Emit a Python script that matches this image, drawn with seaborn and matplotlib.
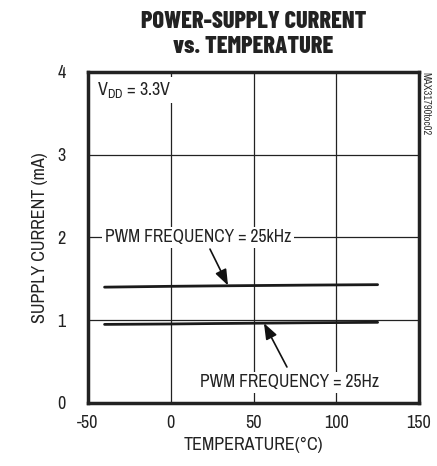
import matplotlib
matplotlib.use("Agg")
import matplotlib.pyplot as plt
import seaborn as sns
import pandas as pd

temps = [-40, 0, 25, 85, 125]
current_25khz = [1.40, 1.41, 1.415, 1.425, 1.43]
current_25hz = [0.95, 0.955, 0.96, 0.97, 0.975]
x_ticks = [-50, 0, 50, 100, 150]
y_ticks = [0, 1, 2, 3, 4]

sns.set_theme(style="white")
BODY = ["Archivo Narrow", "DejaVu Sans"]
TITLE = ["Barlow Condensed", "DejaVu Sans"]
plt.rcParams["font.family"] = BODY
plt.rcParams["mathtext.default"] = "regular"
INK = "#222222"

df = pd.DataFrame({
    "temp": temps * 2,
    "current": current_25khz + current_25hz,
    "series": ["25kHz"] * len(temps) + ["25Hz"] * len(temps),
})

fig = plt.figure(figsize=(4.37, 4.66), dpi=100)
ax = fig.add_axes([0.2014, 0.1352, 0.7574, 0.7103])

sns.lineplot(data=df, x="temp", y="current", units="series", estimator=None,
             color="#1a1a1a", linewidth=2.0, ax=ax, legend=False)

ax.set_xlim(-50, 150)
ax.set_ylim(0, 4)
ax.set_xticks(x_ticks)
ax.set_yticks(y_ticks)
ax.set_xticklabels([str(v) for v in x_ticks])
ax.set_yticklabels([str(v) for v in y_ticks])
ax.tick_params(length=0, labelsize=13, colors=INK)
ax.tick_params(axis="x", pad=9)
ax.tick_params(axis="y", pad=16)

for v in [0, 50, 100]:
    ax.axvline(v, color=INK, linewidth=0.9, zorder=1)
for v in [1, 2, 3]:
    ax.axhline(v, color=INK, linewidth=0.9, zorder=1)

for s in ax.spines.values():
    s.set_visible(True)
    s.set_color(INK)
    s.set_linewidth(2.5)

ax.set_xlabel("TEMPERATURE(°C)", fontsize=13, color=INK, labelpad=4)
ax.set_ylabel("SUPPLY CURRENT (mA)", fontsize=13, color=INK, labelpad=7)

fig.text(0.58, 0.977, "POWER-SUPPLY CURRENT\nvs. TEMPERATURE", ha="center", va="top",
         fontsize=17.5, fontweight="heavy", color=INK, linespacing=1.18, family=TITLE)

bbox = dict(facecolor="white", edgecolor="none", pad=2)
ax.text(-44.5, 3.78, r"V$_{DD}$ = 3.3V", fontsize=13, color=INK,
        ha="left", va="center", bbox=bbox, zorder=3)
ax.text(16.5, 2.0, "PWM FREQUENCY = 25kHz", fontsize=12.6, color=INK,
        ha="center", va="center", bbox=bbox, zorder=3)
ax.text(71.8, 0.25, "PWM FREQUENCY = 25Hz", fontsize=12.6, color=INK,
        ha="center", va="center", bbox=bbox, zorder=3)

arrow = dict(arrowstyle="-|>,head_length=0.8,head_width=0.3", color="#111111", lw=1.2,
             shrinkA=0, shrinkB=0)
ax.annotate("", xy=(34.6, 1.42), xytext=(23.7, 1.86), arrowprops=arrow, zorder=4)
ax.annotate("", xy=(56.3, 0.965), xytext=(70.2, 0.435), arrowprops=arrow, zorder=4)

fig.text(0.973, 0.845, "MAX31790toc02", rotation=270, ha="center", va="top",
         fontsize=7.5, color="#333333")

fig.savefig("out.png", dpi=100)
